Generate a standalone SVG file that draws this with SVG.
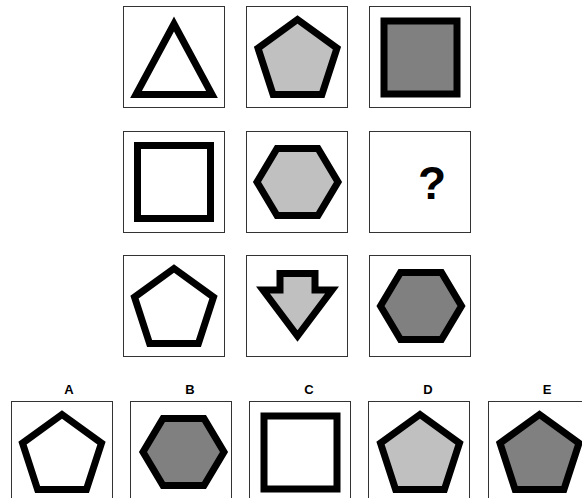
<svg xmlns="http://www.w3.org/2000/svg" width="582" height="498" viewBox="0 0 582 498">
<defs>
<style>
.box{fill:#fff;stroke:#333;stroke-width:1}
.sh{stroke:#000;stroke-width:7;stroke-linejoin:miter;stroke-miterlimit:10}
.w{fill:#fff}
.l{fill:#c0c0c0}
.d{fill:#808080}
.lab{font-family:"Liberation Sans",Arial,sans-serif;font-weight:bold;font-size:13px;text-anchor:middle;fill:#000}
.q{font-family:"Liberation Sans",Arial,sans-serif;font-weight:bold;font-size:46px;text-anchor:middle;fill:#000}
</style>
<polygon id="pent" points="0,-41.5 39.5,-12.8 24.4,33.6 -24.4,33.6 -39.5,-12.8"/>
<polygon id="hex" points="-40.5,0 -20.5,-33.5 20.5,-33.5 40.5,0 20.5,33.5 -20.5,33.5"/>
</defs>
<rect width="582" height="498" fill="#fff"/>
<g id="r1c1"><rect class="box" x="123.5" y="6.5" width="101" height="101"/><polygon class="sh w" points="174,24 212,94.5 136,94.5"/></g>
<g id="r1c2"><rect class="box" x="246.5" y="6.5" width="101" height="101"/><use href="#pent" class="sh l" x="297.5" y="61"/></g>
<g id="r1c3"><rect class="box" x="369.5" y="6.5" width="101" height="101"/><rect class="sh d" x="384" y="21" width="73" height="73"/></g>
<g id="r2c1"><rect class="box" x="123.5" y="131.5" width="101" height="101"/><rect class="sh w" x="137.5" y="145.5" width="73" height="73"/></g>
<g id="r2c2"><rect class="box" x="246.5" y="131.5" width="101" height="101"/><use href="#hex" class="sh l" x="297.5" y="182"/></g>
<g id="r2c3"><rect class="box" x="369.5" y="131.5" width="101" height="101"/><text class="q" x="432" y="199">?</text></g>
<g id="r3c1"><rect class="box" x="123.5" y="255.5" width="101" height="101"/><use href="#pent" class="sh w" x="174" y="310"/></g>
<g id="r3c2"><rect class="box" x="246.5" y="255.5" width="101" height="101"/><polygon class="sh l" points="280,273.5 315,273.5 315,290 332,290 297.5,336 263,290 280,290"/></g>
<g id="r3c3"><rect class="box" x="369.5" y="255.5" width="101" height="101"/><use href="#hex" class="sh d" x="421" y="306"/></g>
<g id="optA"><text class="lab" x="69" y="394">A</text><rect class="box" x="11.5" y="401.5" width="101" height="101"/><use href="#pent" class="sh w" x="62" y="456"/></g>
<g id="optB"><text class="lab" x="190" y="394">B</text><rect class="box" x="130.5" y="401.5" width="101" height="101"/><use href="#hex" class="sh d" x="183.5" y="452"/></g>
<g id="optC"><text class="lab" x="309" y="394">C</text><rect class="box" x="249.5" y="401.5" width="101" height="101"/><rect class="sh w" x="264" y="416" width="73" height="73"/></g>
<g id="optD"><text class="lab" x="428" y="394">D</text><rect class="box" x="368.5" y="401.5" width="101" height="101"/><use href="#pent" class="sh l" x="420" y="456"/></g>
<g id="optE"><text class="lab" x="547" y="394">E</text><rect class="box" x="488.5" y="401.5" width="101" height="101"/><use href="#pent" class="sh d" x="539.5" y="456"/></g>
<g id="connectors"/>
</svg>
